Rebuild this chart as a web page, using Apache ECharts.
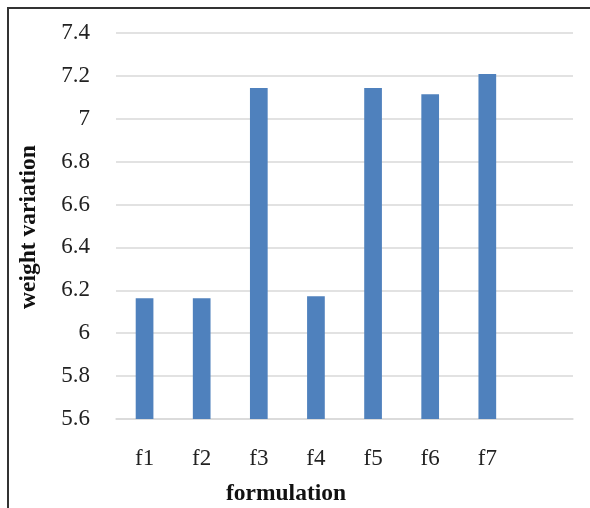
<!DOCTYPE html>
<html><head><meta charset="utf-8">
<script src="https://cdn.jsdelivr.net/npm/echarts@6/dist/echarts.min.js"></script>
<style>html,body{margin:0;padding:0;background:#fff}#c{width:590px;height:508px}</style>
</head><body><div id="c"></div>
<script>
const categories = ['f1','f2','f3','f4','f5','f6','f7',''];
const weightVariation = [6.163, 6.163, 7.144, 6.172, 7.144, 7.114, 7.209, null];
const yTicks = [5.6, 5.8, 6, 6.2, 6.4, 6.6, 6.8, 7, 7.2, 7.4];

const chart = echarts.init(document.getElementById('c'));
const font = '"Liberation Serif", "DejaVu Serif", serif';
chart.setOption({
  animation: false,
  backgroundColor: '#fff',
  grid: { left: 116, right: 17, top: 33, bottom: 89 },
  xAxis: {
    type: 'category',
    data: categories,
    axisTick: { show: false },
    axisLine: { lineStyle: { color: '#d9d9d9', width: 1.5 } },
    axisLabel: { color: '#222', fontFamily: font, fontSize: 23, margin: 28 }
  },
  yAxis: {
    type: 'value',
    min: yTicks[0], max: yTicks[yTicks.length - 1], interval: 0.2,
    axisLine: { show: false }, axisTick: { show: false },
    splitLine: { lineStyle: { color: '#d9d9d9', width: 1.5 } },
    axisLabel: { color: '#222', fontFamily: font, fontSize: 23, margin: 26,
      formatter: v => String(Math.round(v * 10) / 10) }
  },
  series: [{
    type: 'bar',
    data: weightVariation,
    barWidth: '31%',
    itemStyle: { color: '#4f81bd' }
  }],
  graphic: [
    { type: 'rect', shape: { x: 8, y: 8, width: 600, height: 520 },
      style: { fill: 'none', stroke: '#333', lineWidth: 2 } },
    { type: 'text', x: 29, y: 227, rotation: Math.PI / 2,
      style: { text: 'weight variation', font: 'bold 23.5px ' + font, fill: '#111',
        textAlign: 'center', textVerticalAlign: 'middle' } },
    { type: 'text', x: 286, y: 494,
      style: { text: 'formulation', font: 'bold 23.5px ' + font, fill: '#111',
        textAlign: 'center', textVerticalAlign: 'middle' } }
  ]
});
</script></body></html>
